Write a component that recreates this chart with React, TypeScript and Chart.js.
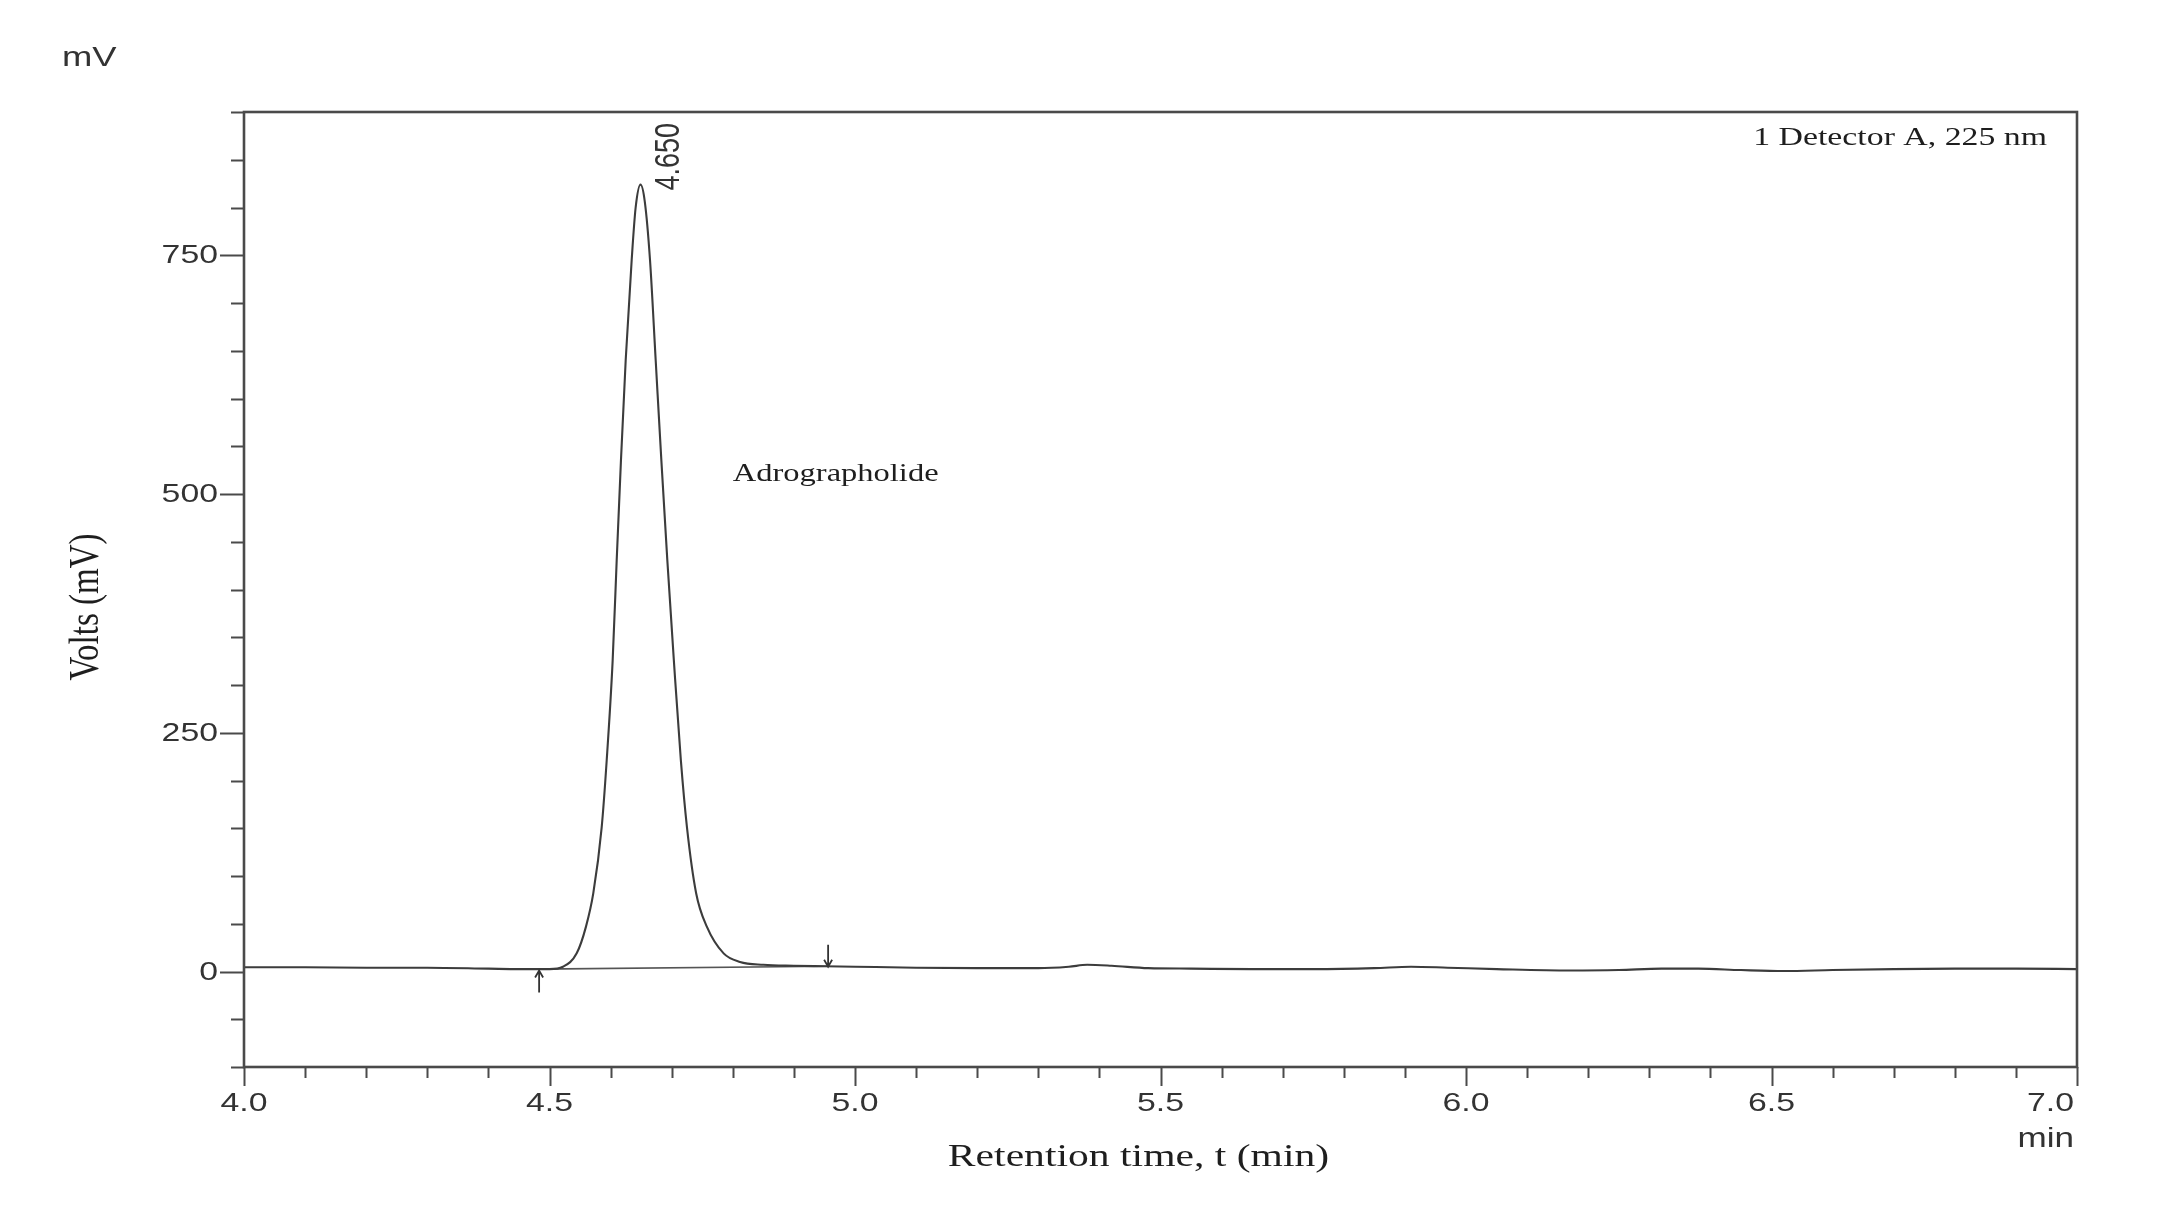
import React, { useEffect, useRef } from "react";
import { Chart, registerables } from "chart.js";

Chart.register(...registerables);

// Retention time (min) and detector signal (mV)
const retentionTime = [
  4.0, 4.1, 4.2, 4.3, 4.4, 4.45, 4.5, 4.522, 4.5445, 4.5597, 4.5717, 4.5854,
  4.5936, 4.6034, 4.61, 4.617, 4.6247, 4.6345, 4.641, 4.649, 4.656, 4.6645,
  4.6738, 4.683, 4.6928, 4.7035, 4.715, 4.725, 4.74, 4.7575, 4.785,
  4.8118, 4.85, 4.9, 4.95, 5.0, 5.1, 5.2, 5.3, 5.35, 5.38, 5.42, 5.48, 5.55,
  5.65, 5.75, 5.85, 5.91, 5.97, 6.05, 6.17, 6.25, 6.32, 6.38, 6.45, 6.52, 6.6,
  6.7, 6.8, 6.9, 7.0,
];
const signalMv = [
  4.5, 4.5, 4, 4, 3, 2.5, 2.5, 5, 19, 47, 82, 151,
  221, 326, 431, 536, 640, 745, 800, 824, 806, 745,
  640, 536, 431, 326, 221, 151, 82, 47, 19,
  10, 7, 6, 5.5, 5, 4, 3.5, 3.5, 5, 7, 6, 3.5, 3,
  2.5, 2.5, 3.5, 5, 4, 2.5, 1, 1.5, 3, 3, 1.5, 0.5, 1.5,
  2.5, 3, 3, 2.5,
];

// Integration baseline (drawn between the start/end markers)
const baselineTime = [4.483, 4.956];
const baselineMv = [2.5, 5.5];

// Peak start / end markers: time, arrow tail (mV), arrow tip (mV)
const markerTime = [4.483, 4.956];
const markerTail = [-22, 28];
const markerTip = [1, 5];

// Peak label
const peakTime = 4.649;
const peakHeight = 824;
const peakLabel = "4.650";
const compoundName = "Adrographolide";
const compoundAt = [4.8, 520];
const detectorLabel = "1 Detector A, 225 nm";

// Axes
const xMin = 4.0;
const xMax = 7.0;
const xStep = 0.1;
const xTickLabels = ["4.0", "4.5", "5.0", "5.5", "6.0", "6.5", "7.0"];
const yMin = -100;
const yMax = 900;
const yStep = 50;
const yTickLabels = ["0", "250", "500", "750"];
const xUnit = "min";
const yUnit = "mV";
const xTitle = "Retention time, t (min)";
const yTitle = "Volts (mV)";

const INK = "#3c3c3c";
const SANS = '"Liberation Sans", Arial, sans-serif';
const SERIF = '"Liberation Serif", "Times New Roman", serif';
const STRETCH = 1.3; // the original figure is stretched horizontally

const fmtX = (v: number) => (Math.round(v * 10) / 10).toFixed(1);
const isMajorX = (v: number) => xTickLabels.includes(fmtX(v));
const isMajorY = (v: number) => yTickLabels.includes(String(Math.round(v)));

function txt(
  ctx: CanvasRenderingContext2D,
  text: string,
  x: number,
  y: number,
  font: string,
  align: CanvasTextAlign,
  baseline: CanvasTextBaseline = "middle",
  angle = 0
) {
  ctx.save();
  ctx.translate(x, y);
  ctx.scale(STRETCH, 1);
  if (angle) ctx.rotate(angle);
  ctx.font = font;
  ctx.textAlign = align;
  ctx.textBaseline = baseline;
  ctx.fillText(text, 0, 0);
  ctx.restore();
}

const decorPlugin = {
  id: "decor",
  afterDatasetsDraw(chart: any) {
    const { ctx, scales } = chart;
    const x = scales.x;
    const y = scales.y;
    ctx.save();
    ctx.strokeStyle = "#333";
    ctx.lineWidth = 1.8;
    markerTime.forEach((t, i) => {
      const px = x.getPixelForValue(t);
      const y0 = y.getPixelForValue(markerTail[i]);
      const y1 = y.getPixelForValue(markerTip[i]);
      const dir = y1 < y0 ? 1 : -1;
      ctx.beginPath();
      ctx.moveTo(px, y0);
      ctx.lineTo(px, y1);
      ctx.moveTo(px - 4, y1 + dir * 7);
      ctx.lineTo(px, y1);
      ctx.lineTo(px + 4, y1 + dir * 7);
      ctx.stroke();
    });
    ctx.restore();
  },
  afterDraw(chart: any) {
    const { ctx, chartArea: a, scales } = chart;
    const x = scales.x;
    const y = scales.y;
    ctx.save();
    // frame
    ctx.strokeStyle = "#4a4a4a";
    ctx.lineWidth = 2.6;
    ctx.strokeRect(a.left, a.top, a.right - a.left, a.bottom - a.top);
    // ticks
    ctx.lineWidth = 2;
    ctx.beginPath();
    x.ticks.forEach((t: any) => {
      const px = Math.round(x.getPixelForValue(t.value)) + 0.5;
      const len = isMajorX(t.value) ? 19 : 11;
      ctx.moveTo(px, a.bottom);
      ctx.lineTo(px, a.bottom + len);
    });
    y.ticks.forEach((t: any) => {
      const py = Math.round(y.getPixelForValue(t.value)) + 0.5;
      const len = isMajorY(t.value) ? 24 : 13;
      ctx.moveTo(a.left, py);
      ctx.lineTo(a.left - len, py);
    });
    ctx.stroke();

    // tick labels
    ctx.fillStyle = "#333";
    const tickFont = `26px ${SANS}`;
    x.ticks.forEach((t: any) => {
      const s = fmtX(t.value);
      if (!xTickLabels.includes(s)) return;
      const px = x.getPixelForValue(t.value);
      const isLast = s === xTickLabels[xTickLabels.length - 1];
      txt(ctx, s, isLast ? px - 3 : px, a.bottom + 37, tickFont, isLast ? "right" : "center");
    });
    y.ticks.forEach((t: any) => {
      const s = String(Math.round(t.value));
      if (!yTickLabels.includes(s)) return;
      txt(ctx, s, a.left - 26, y.getPixelForValue(t.value) + 1, tickFont, "right");
    });
    txt(ctx, xUnit, a.right - 3, a.bottom + 73, `27px ${SANS}`, "right");
    txt(ctx, yUnit, 62, 58, `28px ${SANS}`, "left");

    // peak label (rotated)
    const ppx = x.getPixelForValue(peakTime);
    const ppy = y.getPixelForValue(peakHeight);
    txt(ctx, peakLabel, ppx + 29, ppy + 6, `27px ${SANS}`, "left", "middle", -Math.PI / 2);

    // serif annotations
    ctx.fillStyle = "#1e1e1e";
    txt(
      ctx,
      compoundName,
      x.getPixelForValue(compoundAt[0]),
      y.getPixelForValue(compoundAt[1]),
      `25px ${SERIF}`,
      "left"
    );
    txt(ctx, detectorLabel, a.right - 30, a.top + 26, `26px ${SERIF}`, "right");

    // axis titles
    txt(ctx, xTitle, (a.left + a.right) / 2 - 22, 1158, `32px ${SERIF}`, "center");
    txt(ctx, yTitle, 87, 607, `33px ${SERIF}`, "center", "middle", -Math.PI / 2);

    ctx.restore();
  },
};

export default function App() {
  const ref = useRef<HTMLCanvasElement | null>(null);

  useEffect(() => {
    document.body.style.margin = "0";
    document.body.style.overflow = "hidden";
    document.body.style.background = "#fff";
    const canvas = ref.current;
    if (!canvas) return;

    const trace = retentionTime.map((t, i) => ({ x: t, y: signalMv[i] }));
    const base = baselineTime.map((t, i) => ({ x: t, y: baselineMv[i] }));

    const chart = new Chart(canvas, {
      type: "line",
      data: {
        datasets: [
          {
            label: "Detector A",
            data: trace,
            borderColor: INK,
            borderWidth: 2.1,
            pointRadius: 0,
            cubicInterpolationMode: "monotone",
            fill: false,
          },
          {
            label: "Baseline",
            data: base,
            borderColor: "#555",
            borderWidth: 1.6,
            pointRadius: 0,
            fill: false,
          },
        ],
      },
      options: {
        responsive: false,
        animation: false,
        devicePixelRatio: 1,
        layout: { padding: { left: 0, top: 112, right: 87, bottom: 0 } },
        plugins: { legend: { display: false }, tooltip: { enabled: false } },
        scales: {
          x: {
            type: "linear",
            min: xMin,
            max: xMax,
            grid: { display: false, drawTicks: false },
            border: { display: false },
            ticks: { stepSize: xStep, autoSkip: false, display: false },
            afterFit: (scale: any) => {
              scale.height = 149;
            },
          },
          y: {
            type: "linear",
            min: yMin,
            max: yMax,
            grid: { display: false, drawTicks: false },
            border: { display: false },
            ticks: { stepSize: yStep, autoSkip: false, display: false },
            afterFit: (scale: any) => {
              scale.width = 244;
            },
          },
        },
      },
      plugins: [decorPlugin],
    });

    return () => chart.destroy();
  }, []);

  return <canvas ref={ref} width={2164} height={1216} style={{ display: "block" }} />;
}
